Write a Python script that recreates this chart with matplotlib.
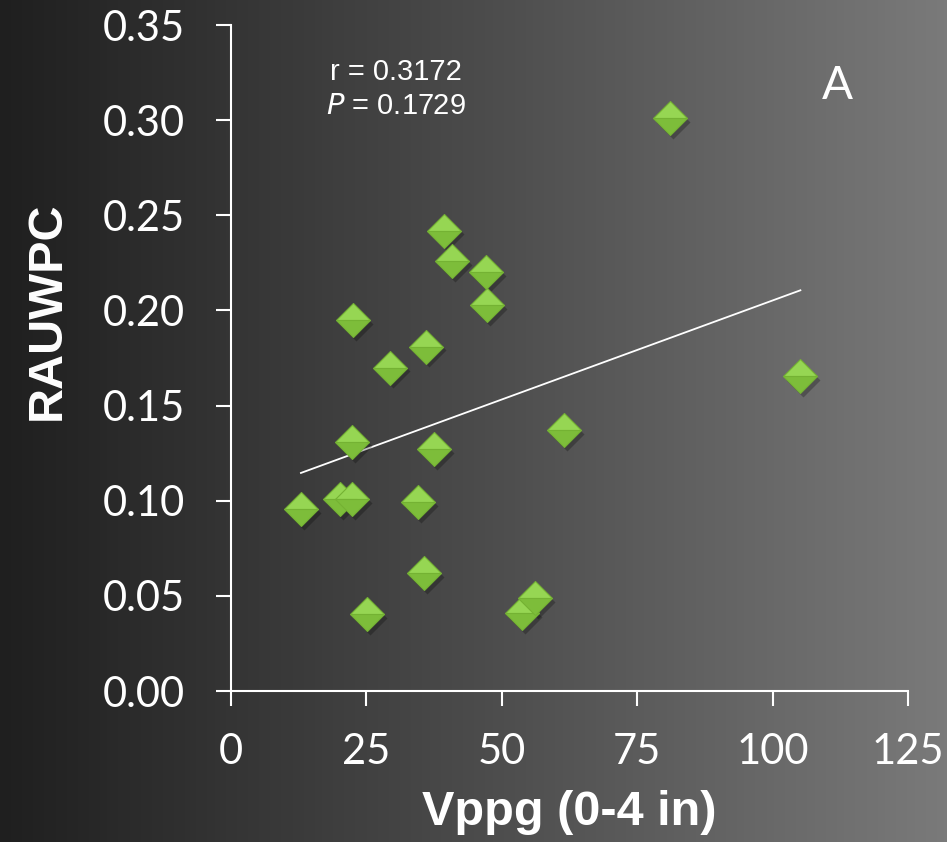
import numpy as np
import matplotlib.pyplot as plt
from matplotlib.colors import LinearSegmentedColormap

# === Data ===
vppg = [81.1, 105.1, 39.3, 40.8, 47.1, 47.3, 22.5, 36.0, 29.4, 61.5,
        22.3, 37.5, 12.9, 20.1, 22.3, 34.5, 35.6, 25.1, 53.7, 56.1]
rauwpc = [0.301, 0.1655, 0.242, 0.226, 0.220, 0.203, 0.195, 0.181, 0.170, 0.137,
          0.131, 0.127, 0.0956, 0.101, 0.101, 0.0993, 0.062, 0.0405, 0.041, 0.0489]
x_ticks = [0, 25, 50, 75, 100, 125]
y_ticks = [0.00, 0.05, 0.10, 0.15, 0.20, 0.25, 0.30, 0.35]
stats_text = ["r = 0.3172", "$\\mathit{P}$ = 0.1729"]
panel = "A"

W, H, DPI = 947, 842, 100
fig = plt.figure(figsize=(W / DPI, H / DPI), dpi=DPI)

# background gradient, dark left -> grey right
bg = fig.add_axes([0, 0, 1, 1], zorder=-10)
cmap = LinearSegmentedColormap.from_list("bg", ["#1f1f1f", "#4b4b4b", "#7a7a7a"])
grad = np.linspace(0, 1, 256).reshape(1, -1)
bg.imshow(grad, aspect="auto", cmap=cmap, extent=[0, 1, 0, 1])
bg.set_axis_off()

ax = fig.add_axes([0.244, 0.1793, 0.715, 0.791])
ax.patch.set_alpha(0)

x = np.array(vppg)
y = np.array(rauwpc)

# shadow, then two-tone diamond (lighter top facet, darker bottom)
ax.plot(x + 0.5, y - 0.002, "D", ms=17, color="black", alpha=0.25, mec="none", zorder=2)
ax.plot(x, y, "D", ms=17, fillstyle="top", mfc="#96d653", mfcalt="#7dbd3a",
        mec="#74b233", mew=0.8, zorder=3)

# linear trend
m, b = np.polyfit(x, y, 1)
xl = np.array([x.min(), x.max()])
ax.plot(xl, m * xl + b, color="white", lw=1.3, zorder=1)

ax.set_xlim(0, 125)
ax.set_ylim(0, 0.35)
ax.set_xticks(x_ticks)
ax.set_yticks(y_ticks)
ax.set_xticklabels([str(t) for t in x_ticks])
ax.set_yticklabels([f"{t:.2f}" for t in y_ticks])

for s in ["top", "right"]:
    ax.spines[s].set_visible(False)
for s in ["left", "bottom"]:
    ax.spines[s].set_color("white")
    ax.spines[s].set_linewidth(1.5)
ax.tick_params(colors="white", length=11, width=1.5, direction="out", labelsize=30)
ax.tick_params(axis="y", pad=22)
ax.tick_params(axis="x", pad=19)
for lab in ax.get_xticklabels() + ax.get_yticklabels():
    lab.set_fontfamily("Lato")

ax.set_xlabel("Vppg (0-4 in)", color="white", fontsize=35, fontweight="bold",
              fontfamily="Liberation Sans", labelpad=14)
ax.set_ylabel("RAUWPC", color="white", fontsize=35, fontweight="bold",
              fontfamily="Liberation Sans", labelpad=24)
ax.yaxis.label.set_y(0.571)

ax.text(30.5, 0.3253, stats_text[0], color="white", fontsize=21, ha="center",
        va="center", fontfamily="Liberation Sans")
ax.text(30.5, 0.3074, stats_text[1], color="white", fontsize=21, ha="center",
        va="center", fontfamily="Liberation Sans")
ax.text(112, 0.318, panel, color="white", fontsize=33, ha="center", va="center",
        fontfamily="Lato")

plt.savefig("out.png", dpi=DPI)
